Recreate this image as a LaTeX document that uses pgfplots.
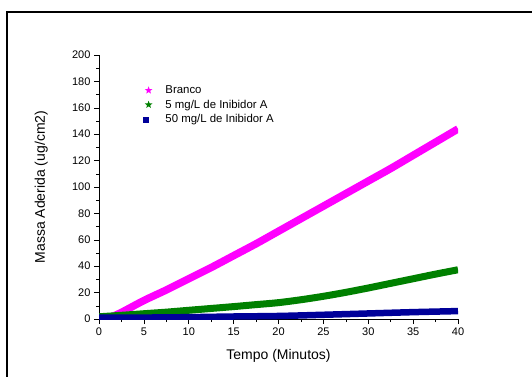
\documentclass[border=0pt]{standalone}
\usepackage{fontspec}
\setmainfont{Liberation Sans}
\usepackage{pgfplots}
\pgfplotsset{compat=1.18}
\usetikzlibrary{shapes.geometric}
\definecolor{cpink}{RGB}{255,0,255}
\definecolor{cgreen}{RGB}{0,128,0}
\definecolor{cblue}{RGB}{0,0,153}
\begin{document}
\begin{tikzpicture}[x=1pt,y=1pt]
\useasboundingbox (0,0) rectangle (532,376);
\draw[line width=2pt] (7,-20) -- (7,364) -- (560,364);
\begin{axis}[at={(99pt,57pt)}, anchor=south west, scale only axis,
  width=359pt, height=264pt,
  xmin=0, xmax=40, ymin=0, ymax=200,
  axis lines*=left,
  xtick={0,5,...,40}, ytick={0,20,...,200},
  minor x tick num=1, minor y tick num=1,
  tick align=outside, major tick length=5pt, minor tick length=3pt,
  tick style={black, line width=0.6pt},
  axis line style={line width=0.8pt},
  /pgf/number format/assume math mode=true,
  ticklabel style={font=\fontsize{11}{13}\selectfont},
  label style={font=\fontsize{14}{16}\selectfont},
  xlabel={Tempo (Minutos)},
  ylabel={Massa Aderida (ug/cm2)},
  xlabel style={at={(axis description cs:0.5,-0.139)}, anchor=center},
  ylabel style={at={(axis description cs:-0.161,0.5)}, anchor=center},
  legend style={at={(rel axis cs:0.123,0.892)}, anchor=north west, draw=none, fill=none,
    font=\fontsize{11.4}{13}\selectfont, inner sep=0pt, row sep=0.8pt,
    /tikz/every odd column/.append style={column sep=11pt}},
  legend cell align=left,
]
\addplot[cpink, line width=7.5pt, smooth, forget plot] coordinates {
(1.2,1) (2.5,5) (5,14) (7.5,22) (10,30.5) (12.5,39) (15,48) (17.5,57) (20,66.5)
(22.5,76) (25,85.5) (27.5,95) (30,104.5) (32.5,114) (35,124) (37.5,134) (40,144)};
\addplot[cgreen, line width=7pt, smooth, forget plot] coordinates {
(0,1.7) (2.5,2.8) (5,4) (7.5,5.2) (10,6.6) (12.5,8) (15,9.4) (17.5,10.9) (20,12.4)
(22.5,14.6) (25,17.2) (27.5,20.2) (30,23.5) (32.5,27) (35,30.5) (37.5,34) (40,37.3)};
\addplot[cblue, line width=6.5pt, smooth, forget plot] coordinates {
(0,1.0) (5,1.1) (10,1.4) (15,1.9) (20,2.3) (25,3.2) (30,4.2) (35,5.2) (40,6.0)};
\addlegendimage{legend image code/.code={\node[star,star points=5,star point ratio=2.4,fill=cpink,inner sep=0pt,minimum size=8pt] at (4pt,0) {};}}
\addlegendentry{Branco}
\addlegendimage{legend image code/.code={\node[star,star points=5,star point ratio=2.4,fill=cgreen,inner sep=0pt,minimum size=8pt] at (4pt,0) {};}}
\addlegendentry{5 mg/L de Inibidor A}
\addlegendimage{legend image code/.code={\fill[cblue] (1.5pt,-2.5pt) rectangle (6.5pt,2.5pt);}}
\addlegendentry{50 mg/L de Inibidor A}
\end{axis}
\end{tikzpicture}
\end{document}
